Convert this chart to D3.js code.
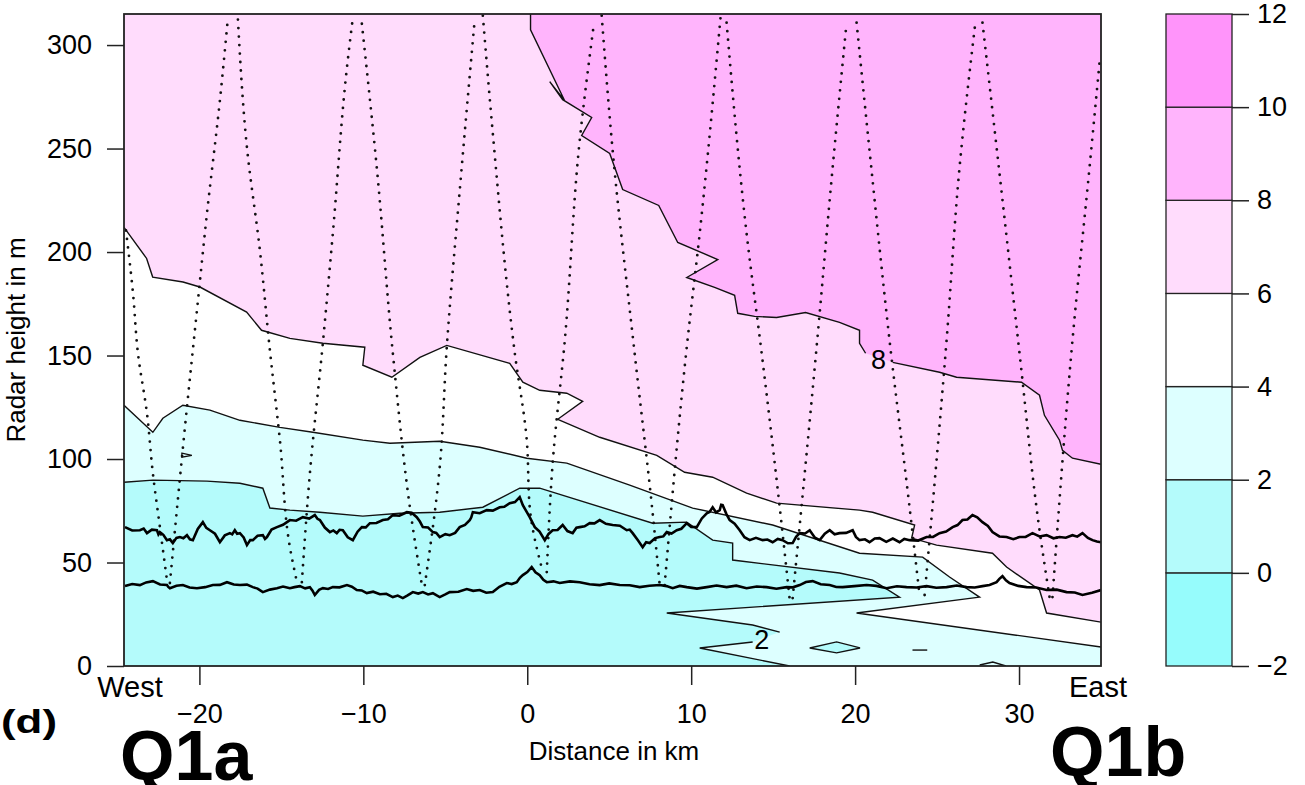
<!DOCTYPE html>
<html><head><meta charset="utf-8">
<script src="https://cdn.jsdelivr.net/npm/d3@7"></script>
<style>
body{margin:0;background:#fff;}
svg text{font-family:"Liberation Sans",Arial,Helvetica,sans-serif;fill:#000;}
</style></head><body>
<svg id="chart" width="1305" height="785"></svg>
<script>
// Shading levels and their fill colours (one colour per band)
const levels = [-2, 0, 2, 4, 6, 8, 10, 12];
const bandColors = ["#96fcfc", "#b4fbfb", "#ddffff", "#ffffff", "#ffdcfc", "#ffb4fc", "#ff94fa"];
const xTicks = [-20, -10, 0, 10, 20, 30];
const yTicks = [0, 50, 100, 150, 200, 250, 300];
const xDomain = [-24.6, 35];
const yDomain = [0, 315];

// Contour lines as [distance km, height m]; null = break for an inline label
const contour8 = [[0.2,315],[0.2,307.4],[2.29,273.0],[1.37,282.3],[2.16,273.6],[3.93,265.0],[3.32,256.3],[5.03,247.6],
  [5.82,230.2],[8.02,222.5],[9.18,204.6],[11.62,196.4],[9.73,187.7],[11.43,182.9],[12.65,179.1],[12.84,170.4],
  [13.87,168.9],[15.21,168.4],[16.98,170.8],[19.05,166.0],[20.27,162.2],[20.27,155.9],[20.64,151.1],null,
  [22.29,146.7],[25.15,141.9],[26.19,139.5],[30.15,137.1],[31.25,130.8],[31.55,121.1],[32.47,109.1],[32.65,104.2],
  [33.26,100.4],[35,97.5]];
const contour6 = [[-24.6,211.9],[-23.22,196.9],[-22.85,187.9],[-21.0,185.5],[-19.97,183.1],[-17.12,171.0],[-16.21,162.2],
  [-14.48,158.3],[-12.47,155.9],[-9.91,154.0],[-10.03,145.3],[-8.26,139.5],[-6.55,149.1],[-4.91,154.9],[-1.07,146.2],
  [-0.27,137.1],[0.76,133.2],[2.41,131.8],[3.38,127.9],[1.86,119.2],[4.42,110.5],[7.9,101.8],[9.6,93.6],[11.31,91.2],
  [13.38,83.5],[15.21,78.7],[20.27,75.3],[21.07,74.3],[23.63,68.1],[23.45,61.8],[24.97,58.4],[28.38,54.5],[29.24,47.8],
  [31.25,36.7],[31.68,25.6],[35,21.2]];
const contour4 = [[-24.6,126.0],[-22.84,112.9],[-22.23,119.7],[-21.01,126.0],[-19.36,123.6],[-17.53,118.7],[-15.09,115.3],
  [-13.08,112.9],[-10.03,109.1],[-8.38,107.6],[-5.34,108.6],[-2.9,105.7],[-0.03,100.4],[2.41,98.0],[6.25,87.4],
  [10.09,76.3],[14.97,68.1],[20.27,54.5],[24.12,52.6],[25.76,43.0],[27.59,33.3],[20.09,25.6],[35,9.2]];
const contour2 = [[-24.6,88.8],[-22.84,89.8],[-19.54,89.3],[-17.53,88.3],[-16.13,85.9],[-15.7,76.3],[-14.48,75.3],
  [-12.65,74.3],[-10.03,72.4],[-7.77,73.8],[-5.34,74.3],[-2.71,76.7],[-0.46,85.9],[0.76,85.9],[7.65,69.0],[9.73,69.5],
  [11.31,60.8],[12.53,59.4],[12.53,51.2],[19.05,44.9],[21.07,41.5],[22.71,33.3],[8.51,25.6],[13.75,19.8],[15.4,16.4],
  null,[13.75,11.6],[10.52,8.7],[16.0,0]];
// small closed contours
const diamond2 = [[17.23,8.7],[18.87,11.6],[20.3,8.7],[18.87,6.3]];
const dash2 = [[23.5,7.7],[24.4,7.7]];
const notch2 = [[27.6,0.5],[28.4,1.9],[29.2,0]];
const arrow4 = [[-21.07,102.8],[-20.46,101.8],[-21.07,100.9]];
// inline contour labels
const contourLabels = [{text:"8", x:21.43, y:147.7}, {text:"2", x:14.3, y:12.5}];

// Radar beam paths (dotted)
const beams = [
  [[-24.48,210.4],[-24.05,180.0],[-23.75,151.1],[-23.2,122.1],[-22.84,93.1],[-22.41,67.1],[-21.98,41.5]],
  [[-21.8,40.1],[-20.76,125.0],[-20.15,171.8],[-19.54,218.6],[-18.75,273.2],[-18.26,313.2]],
  [[-17.65,312.3],[-17.10,250.5],[-16.31,200.8],[-15.70,152.5],[-15.09,109.1],[-14.48,57.4],[-14.05,40.5]],
  [[-13.75,40.5],[-13.26,93.1],[-12.47,155.9],[-11.86,209.0],[-11.0,289.1],[-10.64,313.2]],
  [[-10.09,310.3],[-9.18,240.8],[-8.20,151.1],[-7.16,76.7],[-6.43,39.1]],
  [[-6.25,39.1],[-5.34,96.0],[-4.91,154.0],[-4.12,229.7],[-3.2,312.7]],
  [[-2.71,314.2],[-2.10,257.2],[-0.76,151.1],[-0.03,109.1],[0.15,76.7],[0.95,45.4]],
  [[1.19,45.4],[1.55,98.0],[2.29,157.3],[3.20,253.9],[4.05,309.4]],
  [[4.54,314.2],[5.21,249.0],[6.55,151.1],[7.65,73.8],[8.08,39.1]],
  [[8.38,39.1],[9.73,154.0],[10.52,209.0],[11.8,314.2]],
  [[12.16,310.8],[13.38,209.0],[14.30,151.1],[15.40,76.7],[16.0,32.8]],
  [[16.19,32.8],[17.65,154.0],[18.63,240.8],[19.48,310.8]],
  [[20.09,310.8],[20.88,249.0],[22.10,157.3],[23.32,76.7],[23.93,34.3]],
  [[24.24,34.3],[25.58,157.3],[26.37,240.8],[27.35,311.8]],
  [[27.77,310.8],[28.81,237.9],[30.03,151.1],[31.25,65.6],[31.86,33.3]],
  [[32.04,33.3],[33.26,157.3],[34.3,240.8],[34.91,291.5]]
];

// Layer heights along the track (solid black traces)
const upperLayer = [[-24.54,67.1],[-24.1,65.5],[-23.63,65.6],[-23.4,66.4],[-23.2,64.2],[-22.9,65.9],[-22.59,65.6],
  [-22.5,63.6],[-22.41,64.7],[-22.2,63.4],[-21.98,60.8],[-21.8,61.2],[-21.62,59.4],[-21.4,61.9],[-21.19,62.3],
  [-20.98,61.7],[-20.76,63.2],[-20.58,61.2],[-20.4,60.8],[-20.1,66.2],[-19.79,69.5],[-19.58,66.7],[-19.36,65.6],
  [-19.05,63.9],[-18.75,59.8],[-18.45,63.1],[-18.14,64.2],[-18.0,63.6],[-17.84,65.6],[-17.7,63.9],[-17.53,64.2],
  [-17.3,62.1],[-17.10,58.4],[-16.9,60.8],[-16.74,60.8],[-16.45,62.9],[-16.13,63.2],[-16.0,61.4],[-15.88,62.3],
  [-15.6,65.9],[-15.27,67.1],[-14.9,68.2],[-14.48,70.5],[-14.1,70.2],[-13.69,71.9],[-13.3,71.2],[-12.96,72.9],
  [-12.8,71.1],[-12.65,70.5],[-12.35,66.9],[-12.04,64.7],[-11.83,65.5],[-11.62,64.2],[-11.45,65.8],[-11.25,65.6],
  [-10.95,62.2],[-10.64,60.8],[-10.35,64.9],[-10.09,67.1],[-9.85,67.0],[-9.60,69.0],[-9.2,69.1],[-8.81,70.5],
  [-8.5,70.9],[-8.20,72.9],[-7.8,72.6],[-7.35,74.3],[-7.05,74.0],[-6.74,71.9],[-6.55,69.8],[-6.37,67.1],[-6.05,66.9],
  [-5.76,64.7],[-5.55,64.3],[-5.34,62.3],[-5.0,63.7],[-4.73,63.2],[-4.4,64.3],[-4.12,67.1],[-3.8,68.2],[-3.51,70.5],
  [-3.42,71.7],[-3.32,74.3],[-2.9,73.8],[-2.47,75.3],[-2.1,75.1],[-1.68,76.7],[-1.4,76.9],[-1.07,78.7],[-0.75,79.2],
  [-0.46,81.6],[-0.27,77.7],[0.15,71.9],[0.46,67.1],[0.75,64.9],[1.07,60.8],[1.3,63.8],[1.55,65.6],[1.85,65.7],
  [2.16,68.1],[2.45,65.2],[2.77,64.2],[3.0,66.8],[3.20,67.1],[3.5,67.5],[3.81,69.0],[4.1,68.9],[4.42,70.5],[4.8,68.7],
  [5.21,68.1],[5.65,67.8],[6.07,65.6],[6.25,65.9],[6.43,64.2],[6.75,60.7],[7.04,57.4],[7.25,59.8],[7.47,59.4],
  [7.8,61.8],[8.08,62.3],[8.3,62.6],[8.51,64.7],[8.8,64.0],[9.12,65.6],[9.4,66.3],[9.73,69.0],[10.0,67.2],[10.34,67.1],
  [10.65,71.3],[10.95,73.8],[11.12,74.4],[11.31,76.7],[11.52,74.2],[11.74,75.3],[11.83,77.9],[11.92,77.7],[12.15,73.4],
  [12.35,70.5],[12.65,68.8],[12.96,65.6],[13.25,62.2],[13.57,60.8],[13.95,61.9],[14.36,60.8],[14.65,61.1],[14.97,59.8],
  [15.28,61.4],[15.58,60.8],[15.9,59.3],[16.19,59.4],[16.4,62.4],[16.62,64.2],[16.95,64.0],[17.23,65.6],[17.55,62.0],
  [17.84,60.8],[18.15,63.9],[18.45,65.6],[18.75,63.6],[19.05,64.2],[19.45,64.3],[19.85,65.6],[20.05,62.4],[20.27,60.8],
  [20.6,61.2],[20.88,59.8],[21.2,61.6],[21.49,61.8],[21.9,60.0],[22.3,61.6],[22.71,59.8],[23.0,61.4],[23.32,60.8],
  [23.85,60.6],[24.36,62.3],[24.75,62.4],[25.15,64.2],[25.55,65.0],[25.95,67.1],[26.25,68.1],[26.55,70.5],[26.85,70.8],
  [27.16,72.9],[27.45,71.8],[27.77,69.5],[28.1,67.7],[28.38,64.7],[28.8,62.6],[29.24,62.3],[29.65,61.3],[30.03,62.3],
  [30.4,62.4],[30.82,64.2],[31.25,62.6],[31.68,63.2],[32.1,61.7],[32.47,62.3],[32.85,62.0],[33.26,63.2],[33.55,62.5],
  [33.87,64.2],[34.2,61.9],[34.48,60.8],[34.75,60.1],[35,59.8]];
const lowerLayer = [[-24.54,38.6],[-24.1,39.6],[-23.63,39.1],[-23.25,40.4],[-22.84,41.0],[-22.4,39.4],[-21.98,39.1],
  [-21.9,38.2],[-21.8,37.6],[-21.4,38.8],[-21.01,39.1],[-20.6,37.9],[-20.15,37.6],[-19.65,38.1],[-19.18,39.1],
  [-18.75,39.2],[-18.32,40.5],[-17.9,39.4],[-17.53,39.1],[-17.1,39.3],[-16.74,38.1],[-16.45,37.4],[-16.13,35.7],
  [-15.7,36.9],[-15.27,37.6],[-14.9,38.4],[-14.48,37.6],[-14.2,38.1],[-13.87,38.6],[-13.55,37.5],[-13.26,38.1],
  [-13.1,36.4],[-12.96,34.3],[-12.7,36.8],[-12.47,37.6],[-12.15,37.2],[-11.86,38.1],[-11.45,38.0],[-11.0,39.1],
  [-10.7,38.3],[-10.40,36.7],[-10.1,36.5],[-9.79,35.2],[-9.4,35.9],[-8.99,34.7],[-8.6,34.9],[-8.20,33.3],[-7.9,34.0],
  [-7.59,32.8],[-7.3,34.1],[-6.98,35.7],[-6.65,35.0],[-6.37,35.7],[-6.05,34.6],[-5.76,35.2],[-5.55,34.2],[-5.34,33.3],
  [-5.0,34.6],[-4.73,35.7],[-4.2,35.9],[-3.69,37.2],[-3.3,36.3],[-2.9,36.7],[-2.5,35.4],[-2.10,35.7],[-1.7,38.3],
  [-1.25,40.1],[-0.95,39.6],[-0.64,40.5],[-0.45,42.6],[-0.27,43.9],[0.0,45.4],[0.27,47.8],[0.5,45.3],[0.76,43.9],
  [0.98,41.6],[1.19,40.5],[1.6,40.9],[1.98,40.1],[2.6,40.9],[3.20,40.5],[3.8,39.5],[4.42,39.1],[5.0,39.9],[5.64,39.1],
  [6.25,39.0],[6.86,38.1],[7.45,38.8],[8.08,39.1],[8.5,38.6],[8.87,37.6],[9.3,38.7],[9.73,38.1],[10.35,37.4],
  [10.95,38.1],[11.55,38.9],[12.16,38.1],[12.75,38.8],[13.38,37.6],[14.0,38.4],[14.60,38.1],[15.2,37.3],[15.82,38.1],
  [16.2,38.0],[16.62,39.1],[17.0,40.6],[17.41,41.0],[17.9,39.5],[18.45,39.1],[18.85,38.2],[19.24,38.1],[19.95,38.6],
  [20.70,39.1],[21.3,38.7],[21.92,37.6],[22.55,38.5],[23.14,38.1],[23.75,37.9],[24.36,38.6],[24.95,37.8],[25.58,38.1],
  [26.2,38.9],[26.80,38.1],[27.3,37.9],[27.77,38.6],[28.2,39.1],[28.63,40.5],[28.8,42.1],[28.99,43.4],[29.2,41.4],
  [29.42,40.1],[29.95,38.7],[30.46,38.1],[31.05,37.9],[31.68,36.7],[32.3,36.9],[32.90,35.7],[33.4,35.5],[33.87,34.3],
  [34.45,35.4],[35,36.7]];

// ---- layout ----
const svg = d3.select("#chart");
const plot = {left:124, right:1101, top:14, bottom:666};
const x = d3.scaleLinear().domain(xDomain).range([plot.left, plot.right]);
const y = d3.scaleLinear().domain(yDomain).range([plot.bottom, plot.top]);
const [x0, x1] = xDomain, [y0, y1] = yDomain;

svg.append("defs").append("clipPath").attr("id","plotClip")
  .append("rect").attr("x",plot.left).attr("y",plot.top)
  .attr("width",plot.right-plot.left).attr("height",plot.bottom-plot.top);

const g = svg.append("g").attr("clip-path","url(#plotClip)");
const line = d3.line().defined(d => d !== null).x(d => x(d[0])).y(d => y(d[1]));
const poly = pts => "M" + pts.map(d => x(d[0]) + "," + y(d[1])).join("L") + "Z";
const solid = arr => arr.filter(d => d !== null);
const band = v => bandColors[levels.indexOf(v)];

// background band (8-10) then each lower band painted beneath its contour
g.append("rect").attr("x",plot.left).attr("y",plot.top)
  .attr("width",plot.right-plot.left).attr("height",plot.bottom-plot.top).attr("fill",band(8));
g.append("path").attr("d", poly([[x0,y1], ...solid(contour8), [x1,y0], [x0,y0]])).attr("fill", band(6));
g.append("path").attr("d", poly([...contour6, [x1,y0], [x0,y0]])).attr("fill", band(4));
g.append("path").attr("d", poly([...contour4, [x1,y0], [x0,y0]])).attr("fill", band(2));
g.append("path").attr("d", poly([...solid(contour2), [x0,y0]])).attr("fill", band(0));
g.append("path").attr("d", poly(diamond2)).attr("fill", band(0));

// contour lines
[contour8, contour6, contour4, contour2].forEach(c =>
  g.append("path").attr("d", line(c)).attr("fill","none").attr("stroke","#111").attr("stroke-width",1.4));
[diamond2, arrow4].forEach(c =>
  g.append("path").attr("d", poly(c)).attr("fill","none").attr("stroke","#111").attr("stroke-width",1.3));
[dash2, notch2].forEach(c =>
  g.append("path").attr("d", line(c)).attr("fill","none").attr("stroke","#111").attr("stroke-width",1.4));

// radar beams
beams.forEach(b =>
  g.append("path").attr("d", d3.line().x(d=>x(d[0])).y(d=>y(d[1])).curve(d3.curveMonotoneY)(b))
    .attr("fill","none").attr("stroke","#111").attr("stroke-width",2.8)
    .attr("stroke-linecap","round").attr("stroke-dasharray","0 8.5"));

// layer traces
[upperLayer, lowerLayer].forEach(l =>
  g.append("path").attr("d", line(l)).attr("fill","none").attr("stroke","#000")
    .attr("stroke-width",2.6).attr("stroke-linejoin","miter"));

// contour labels
g.selectAll("text.clab").data(contourLabels).join("text").attr("class","clab")
  .attr("x", d => x(d.x)).attr("y", d => y(d.y)).attr("text-anchor","middle")
  .attr("dominant-baseline","central").attr("font-size",27).text(d => d.text);

// frame
svg.append("rect").attr("x",plot.left).attr("y",plot.top)
  .attr("width",plot.right-plot.left).attr("height",plot.bottom-plot.top)
  .attr("fill","none").attr("stroke","#222").attr("stroke-width",1.8);

// axes
const fmt = d => d < 0 ? "\u2212" + Math.abs(d) : String(d);
const yAxis = svg.append("g").attr("transform",`translate(${plot.left},0)`)
  .call(d3.axisLeft(y).tickValues(yTicks).tickFormat(fmt).tickSize(17).tickPadding(15));
const xAxis = svg.append("g").attr("transform",`translate(0,${plot.bottom})`)
  .call(d3.axisBottom(x).tickValues(xTicks).tickFormat(fmt).tickSize(19).tickPadding(19));
[yAxis, xAxis].forEach(a => {
  a.select(".domain").remove();
  a.selectAll(".tick line").attr("stroke","#222").attr("stroke-width",1.5);
  a.selectAll(".tick text").attr("font-size",27).attr("font-family","'Liberation Sans',Arial,sans-serif").attr("fill","#000");
});

svg.append("text").attr("transform","translate(25,340) rotate(-90)").attr("text-anchor","middle")
  .attr("font-size",26).text("Radar height in m");
svg.append("text").attr("x",614).attr("y",760).attr("text-anchor","middle").attr("font-size",26).text("Distance in km");
svg.append("text").attr("x",130).attr("y",697).attr("text-anchor","middle").attr("font-size",29).text("West");
svg.append("text").attr("x",1098).attr("y",697).attr("text-anchor","middle").attr("font-size",29).text("East");
svg.append("text").attr("x",1).attr("y",733).attr("font-size",34).attr("font-weight","bold")
  .attr("textLength",56).attr("lengthAdjust","spacingAndGlyphs").text("(d)");
svg.append("text").attr("x",120).attr("y",780).attr("font-size",70).attr("font-weight","bold").text("Q1a");
svg.append("text").attr("x",1050).attr("y",776).attr("font-size",70).attr("font-weight","bold").text("Q1b");

// colour bar
const cb = {left:1166, right:1232, top:14, bottom:666};
const cy = d3.scaleLinear().domain([levels[0], levels[levels.length-1]]).range([cb.bottom, cb.top]);
const cbar = svg.append("g");
cbar.selectAll("rect").data(d3.range(levels.length-1)).join("rect")
  .attr("x",cb.left).attr("width",cb.right-cb.left)
  .attr("y", i => cy(levels[i+1])).attr("height", i => cy(levels[i]) - cy(levels[i+1]))
  .attr("fill", i => bandColors[i]).attr("stroke","#222").attr("stroke-width",1.3);
const cAxis = cbar.append("g").attr("transform",`translate(${cb.right},0)`)
  .call(d3.axisRight(cy).tickValues(levels).tickFormat(fmt).tickSize(17).tickPadding(8));
cAxis.select(".domain").remove();
cAxis.selectAll(".tick line").attr("stroke","#222").attr("stroke-width",1.5);
cAxis.selectAll(".tick text").attr("font-size",27).attr("font-family","'Liberation Sans',Arial,sans-serif").attr("fill","#000");
</script>
</body></html>
